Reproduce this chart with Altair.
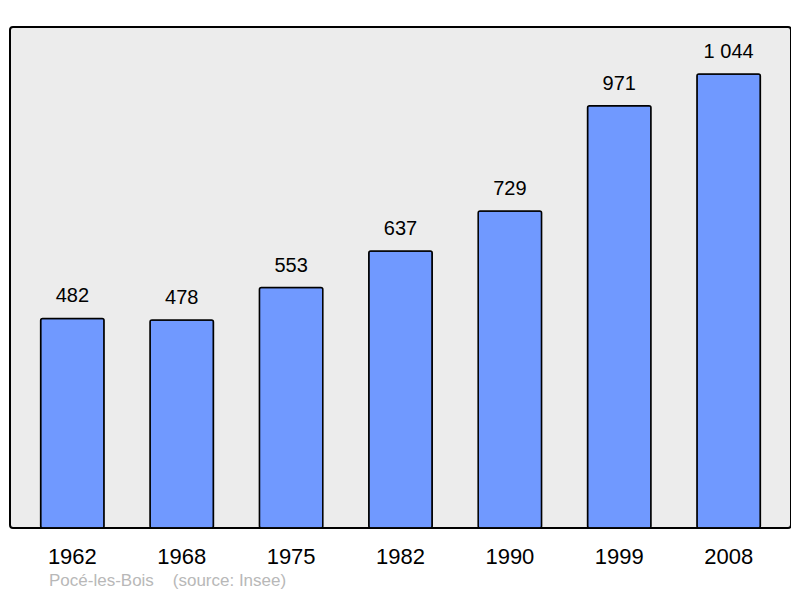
import altair as alt
import pandas as pd

years = ["1962", "1968", "1975", "1982", "1990", "1999", "2008"]
population = [482, 478, 553, 637, 729, 971, 1044]
labels = [f"{v:,}".replace(",", " ") for v in population]

df = pd.DataFrame({"year": years, "pop": population, "label": labels})

FONT = "Liberation Sans"

base = alt.Chart(df).encode(
    x=alt.X("year:N", sort=years,
            scale=alt.Scale(paddingInner=0.42, paddingOuter=0.28),
            axis=alt.Axis(title=None, labelAngle=0, labelFontSize=22, labelFont=FONT,
                          labelColor="black", domain=False, ticks=False, labelPadding=18)),
    y=alt.Y("pop:Q", scale=alt.Scale(domain=[0, 1152], nice=False),
            axis=None),
)

bars = base.mark_bar(color="#7099ff", stroke="black", strokeWidth=1.5, cornerRadius=2)
text = base.mark_text(baseline="middle", dy=-22, fontSize=20, font=FONT, color="black").encode(
    text="label:N")

chart = (bars + text).properties(
    width=781, height=501,
    autosize=alt.AutoSizeParams(type="none"),
    padding={"left": 2, "top": 19, "right": 0, "bottom": 62},
    title=alt.TitleParams("Pocé-les-Bois\u00a0\u00a0\u00a0\u00a0(source: Insee)", orient="bottom",
                          anchor="start", dx=39, offset=6, fontSize=17, font=FONT,
                          fontWeight="normal", color="#b8b8b8"),
).configure_view(
    fill="#ececec", stroke="black", strokeWidth=2, cornerRadius=3
)

chart.save("out.html", embed_options={"renderer": "svg", "actions": False})
